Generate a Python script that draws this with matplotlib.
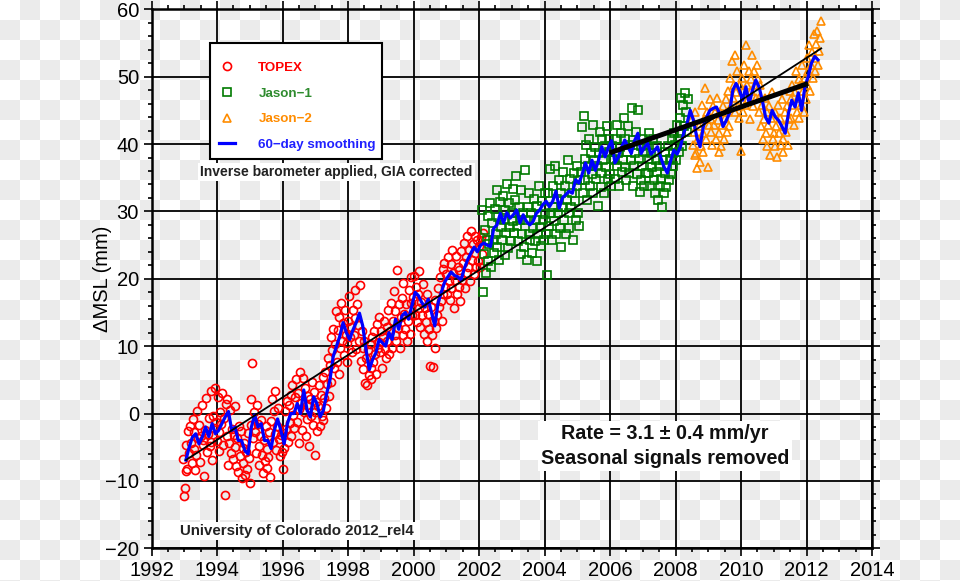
import numpy as np
import matplotlib
matplotlib.use('Agg')
import matplotlib.pyplot as plt
from matplotlib.ticker import MultipleLocator
from matplotlib.patches import Rectangle

plt.rcParams['font.family'] = ['Liberation Sans', 'DejaVu Sans']

# ---------------- data ----------------
cycle_yr = 0.02715          # ~9.9 day repeat cycle
topex_start = 1992.96
jason1_start = 2002.10
jason2_start = 2008.50

topex = [
    -6.8, -12.2, -11.1, -8.6, -4.7, -8.3, -2.6, -5.8, -1.9, -4.4, -7.3, -0.8, -5.2, -2.7, -8.4, -6.1, 0.4, -3.6, -1.7, -7.2, -3.3, 1.2, -4.6, -3.9, -9.3, -2.4, 2.3, -5.7, -3.1, -0.6, -4.8, 3.4, -4.2, -6.9, -0.3, -2.2, 3.8,
    -1.3, -4.1, 2.4, -2.8, -5.6, 0.3, -1.6, 3.1, -4.7, -0.7, -12.1, 1.4, -3.3, 2.2, -7.6, -4.4, 0.6, -5.8, -2.3, -6.7, -3.2, -4.9, 1.1, -7.8, -3.7, -8.7, -1.8, -6.3, -2.6, -9.6, -5.1, -7.4, -4.3, -9.1, -5.7, -8.2, -2.9,
    -6.6, -10.3, -1.7, 2.1, 7.5, -3.6, 0.2, -2.8, -5.9, 1.3, -1.5, -4.8, -7.7, -3.4, -0.9, -6.2, -8.8, -3.9, -7.1, -1.8, -5.3, -8.1, -6.4, -2.7, -9.4, -1.1, 2.2, -4.2, 0.4, -3.1, 3.3, -5.4, -1.9, 0.8, -3.8, -6.3, -3.2,
    -5.7, -8.3, -2.9, -5.1, 0.4, -2.3, 1.8, -4.2, 1.2, -1.4, 2.7, -3.3, 4.3, -0.2, -2.1, 2.4, 5.2, -1.3, 3.1, -4.3, 0.7, 6.2, 1.6, -2.4, 5.3, 0.3, 3.8, -3.4, 1.3, -0.8, 2.6, -4.8, 2.2, -0.4, 4.7, -1.7, 3.2,
    0.3, -6.2, 1.7, -2.6, 1.1, 4.3, -1.8, 2.7, -0.3, 5.4, -0.9, 2.3, 6.2, 0.8, 4.4, 8.3, 2.6, 7.2, 11.3, 4.7, 9.4, 12.6, 6.8, 10.3, 15.2, 7.6, 12.4, 5.8, 14.3, 9.7, 16.4, 10.8, 13.4, 8.7, 15.3, 11.6, 7.7,
    10.4, 13.7, 17.4, 11.3, 12.8, 9.2, 15.4, 11.7, 18.3, 14.2, 9.6, 16.3, 13.2, 10.7, 19.1, 7.8, 12.3, 9.7, 6.6, 10.8, 4.6, 8.3, 4.2, 9.4, 5.7, 10.3, 6.8, 5.2, 11.4, 7.7, 12.2, 8.8, 5.9, 13.3, 9.8, 14.4, 10.6,
    9.2, 12.3, 6.8, 11.4, 13.7, 9.6, 8.3, 12.8, 10.7, 15.3, 8.8, 12.2, 16.4, 9.7, 13.8, 18.2, 11.6, 15.2, 10.8, 21.3, 12.7, 16.3, 9.8, 14.3, 17.2, 11.7, 19.4, 14.8, 12.6, 16.2, 10.7, 13.8, 18.3, 11.8, 16.4, 20.2, 14.7,
    17.3, 20.4, 14.7, 18.8, 13.6, 17.8, 15.7, 21.2, 12.8, 16.6, 14.7, 19.3, 11.8, 15.7, 13.6, 17.8, 10.7, 14.8, 12.6, 7.1, 15.8, 11.7, 6.9, 13.8, 9.7, 16.8, 12.7, 14.6, 18.7, 15.8, 20.3, 16.7, 13.8, 21.4, 17.7, 22.3, 18.8,
    20.7, 17.8, 23.3, 19.7, 16.8, 22.2, 18.7, 24.3, 20.8, 15.7, 19.8, 23.4, 17.7, 21.8, 18.8, 21.3, 16.7, 24.2, 19.8, 22.3, 25.3, 18.7, 23.2, 20.8, 26.4, 21.7, 24.3, 19.6, 27.1, 22.8, 25.2, 20.7, 26.3, 23.8, 21.7, 25.8, 22.7,
    24.8, 21.8, 26.2, 23.7, 26.8,
]

jason1 = [
    30.2, 18.1, 23.7, 27.2, 20.8, 25.7, 29.3, 22.7, 25.2, 31.3, 21.8, 28.3, 25.7, 23.8, 30.3, 26.7, 33.2, 24.7, 29.2, 22.8, 31.4, 27.7, 25.8, 32.3, 28.7, 23.6, 30.2, 26.8, 34.1, 24.6, 31.2, 27.7, 25.6, 29.8, 33.3, 28.6, 26.8,
    31.7, 35.2, 27.8, 25.6, 30.7, 28.8, 23.7, 33.2, 26.7, 29.8, 24.7, 36.2, 28.7, 22.8, 30.6, 26.7, 32.8, 25.7, 29.7, 23.8, 27.6, 31.8, 25.6, 28.7, 22.6, 30.8, 26.6, 33.7, 27.7, 24.8, 31.6, 28.7, 25.8, 32.7, 29.6, 26.7, 20.6,
    32.7, 27.8, 36.3, 29.7, 25.8, 33.7, 30.7, 28.6, 36.8, 26.7, 31.8, 29.7, 34.7, 27.6, 32.8, 24.7, 30.6, 35.8, 28.7, 33.8, 26.7, 31.7, 37.7, 29.8, 27.6, 34.8, 30.7, 32.8, 25.7, 35.7, 31.6, 28.8, 36.8, 33.7, 29.7, 27.8, 34.7,
    35.8, 42.6, 32.7, 44.1, 37.8, 34.7, 39.8, 31.7, 36.8, 40.7, 33.8, 38.7, 35.6, 42.8, 32.7, 37.7, 39.6, 34.8, 36.7, 30.8, 38.7, 41.8, 35.7, 33.6, 40.8, 37.7, 32.8, 39.7, 36.6, 42.7, 34.8, 38.8, 40.7, 35.6, 33.8, 39.7, 37.8,
    37.6, 34.8, 40.7, 36.8, 42.8, 38.7, 33.8, 39.6, 41.7, 35.8, 37.7, 43.8, 36.6, 40.8, 34.7, 38.8, 42.7, 35.7, 39.8, 37.6, 45.4, 33.7, 40.6, 36.8, 38.7, 41.8, 35.6, 45.1, 37.8, 32.9, 39.7, 34.6, 36.8, 40.7, 33.7, 38.8, 35.7,
    39.8, 35.7, 37.8, 41.7, 33.8, 38.7, 36.6, 40.8, 34.7, 32.8, 37.7, 35.8, 39.7, 31.7, 36.8, 33.7, 34.8, 30.6, 37.7, 32.8, 35.7, 38.8, 33.6, 36.8, 39.7, 34.7, 37.8, 35.6, 40.8, 38.7, 36.8, 41.7, 39.8, 37.7, 42.8, 40.7, 38.8,
    43.8, 41.7, 46.8, 39.7, 45.8, 42.7, 47.6, 44.8, 41.8, 46.7,
]

jason2 = [
    43.7, 39.8, 41.8, 38.4, 44.8, 38.7, 36.4, 40.8, 42.7, 37.3, 39.7, 45.8, 41.7, 38.8, 43.7, 48.3, 40.8, 44.7, 36.6, 42.8, 46.7, 41.8, 43.7, 39.8, 45.7, 42.8, 44.8, 40.7, 46.8, 43.6, 38.8, 41.7, 44.8, 39.7, 42.8, 45.6, 40.8,
    43.8, 46.7, 41.8, 44.7, 47.8, 42.7, 49.8, 45.7, 52.3, 46.8, 48.7, 53.2, 44.8, 47.7, 50.8, 45.7, 43.8, 48.7, 38.9, 49.8, 44.7, 47.8, 51.7, 45.8, 54.7, 48.8, 46.7, 50.8, 43.7, 49.7, 47.8, 53.2, 45.7, 50.8, 48.7, 46.8, 51.7,
    49.7, 46.8, 44.7, 48.8, 42.7, 45.8, 40.8, 43.7, 46.8, 41.7, 44.8, 39.7, 42.8, 45.7, 38.4, 43.8, 47.7, 40.8, 41.7, 44.8, 39.7, 42.7, 38.1, 45.8, 41.7, 43.8, 39.8, 46.7, 40.7, 38.8, 42.7, 44.8, 41.8, 45.7, 39.8, 43.7, 47.8,
    46.7, 43.8, 48.7, 45.8, 42.8, 47.7, 50.8, 44.7, 46.8, 49.7, 43.8, 48.8, 45.8, 51.7, 47.8, 44.7, 49.8, 46.7, 52.8, 48.7, 50.8, 54.7, 47.8, 51.8, 53.7, 49.8, 56.4, 52.7, 50.8, 54.8, 56.8, 51.7, 53.8, 55.7, 58.2,
]

smooth_start = 1993.05
smooth_step = 0.1
smooth = [
    -6.9, -5, -3.5, -3, -4.5, -3.5, -2, -3.4, -1.5, -3,
    -2.5, -1.5, -0.5, 0.3, -2.5, -2, -4, -4, -5.5, -6,
    -2, -0.2, -2, -1.5, -4, -4, -5.2, -2.5, -0.8, -2.5,
    -4.5, -1.5, 0, 0, 1.5, 0, 3.5, 0.5, -0.5, 2.5,
    1.5, -0.5, 0.5, 3, 5, 8.5, 10, 11.5, 13.5, 12,
    11, 12.4, 13.5, 14.9, 13, 9.5, 6.5, 8, 9, 11,
    10.5, 10, 12, 11, 14, 12.5, 14.5, 15, 14, 16,
    18, 17.5, 16.5, 15.8, 17, 15, 13, 16.4, 18, 19.5,
    20.3, 21, 20.5, 20.3, 19.8, 21.5, 22.8, 23.8, 24.7, 24,
    25, 25.3, 25, 24.8, 27.5, 28, 29.7, 28.3, 29.8, 29,
    29.5, 30.2, 28.3, 29.5, 28.5, 28, 28.5, 29.7, 30.2, 31,
    31.5, 30.7, 31.5, 33, 30.5, 32, 32.5, 33, 32.7, 34.7,
    34.2, 35.5, 37.2, 35.7, 37.6, 36.1, 37.6, 39.6, 38.1, 39.5,
    40.5, 37.2, 38, 39.5, 40.6, 39.6, 38.6, 40.5, 41.6, 38.6,
    39.5, 40.1, 38.5, 39, 39.6, 38, 36.6, 35.7, 37.5, 39.1,
    38.5, 39.6, 41.6, 43, 45, 43.5, 41, 39.6, 42.6, 44,
    45, 45.3, 45.5, 44.5, 42.6, 43.5, 44.6, 48, 49, 48,
    46.5, 48.5, 46, 48, 49.5, 48.5, 46.5, 44, 43.1, 45,
    44, 43.5, 42.6, 41.6, 44.6, 46.5, 45.5, 47.6, 45, 48.5,
    50, 52, 53, 52.5,
]

trend_years = [1993.05, 2012.45]
trend_vals = [-6.9, 54.2]
recent_years = [2006.0, 2012.05]
recent_vals = [38.7, 49.0]

xticks = list(range(1992, 2015, 2))
yticks = list(range(-20, 61, 10))

# ---------------- figure ----------------
W, H = 960, 581
fig = plt.figure(figsize=(W / 100, H / 100), dpi=100)
fig.patch.set_facecolor('white')

# transparent-look checkerboard background
yy, xx = np.mgrid[0:H, 0:W]
chk = ((yy // 20 + xx // 20) % 2).astype(bool)
bg = np.ones((H, W, 3))
bg[chk] = 0.925
fig.figimage(bg, xo=0, yo=0, origin='upper', zorder=-10)

ax = fig.add_axes([151.5 / W, (H - 548.3) / H, 720.5 / W, 539.0 / H])
ax.set_facecolor('none')

t_top = topex_start + cycle_yr * np.arange(len(topex))
t_j1 = jason1_start + cycle_yr * np.arange(len(jason1))
t_j2 = jason2_start + cycle_yr * np.arange(len(jason2))
t_sm = smooth_start + smooth_step * np.arange(len(smooth))

h1, = ax.plot(t_top, topex, 'o', ms=5.8, mfc='none', mec='#ff0000', mew=1.2, zorder=3, label='TOPEX')
h2, = ax.plot(t_j1, jason1, 's', ms=5.4, mfc='none', mec='#007a00', mew=1.2, zorder=3, label='Jason\u22121')
h3, = ax.plot(t_j2, jason2, '^', ms=6.2, mfc='none', mec='#ff8c00', mew=1.2, zorder=3, label='Jason\u22122')
h4, = ax.plot(t_sm, smooth, '-', color='#0000ff', lw=2.3, zorder=4, label='60\u2212day smoothing')
ax.plot(trend_years, trend_vals, '-', color='black', lw=1.3, zorder=5)
ax.plot(recent_years, recent_vals, '-', color='black', lw=3.6, zorder=5, solid_capstyle='butt')

ax.set_xlim(1992, 2014)
ax.set_ylim(-20, 60)
ax.set_xticks(xticks)
ax.set_yticks(yticks)
ax.xaxis.set_minor_locator(MultipleLocator(0.5))
ax.yaxis.set_minor_locator(MultipleLocator(2))
ax.tick_params(which='both', direction='out', top=True, right=True, width=1.2, color='black')
ax.tick_params(which='major', length=6, labelsize=14.5, pad=3)
ax.tick_params(which='minor', length=3)
ax.grid(True, which='major', color='black', lw=1.3)
for s in ax.spines.values():
    s.set_linewidth(1.8)
    s.set_zorder(6)

ax.set_ylabel('\u0394MSL (mm)', fontsize=14.5)
ax.yaxis.set_label_coords(-0.055, 0.5)

# legend box
ax.add_patch(Rectangle((0.0812, 0.7223), 0.239, 0.2152, transform=ax.transAxes,
                       facecolor='white', edgecolor='black', lw=1.5, zorder=9))
leg = ax.legend(handles=[h1, h2, h3, h4], loc='upper left', bbox_to_anchor=(0.0937, 0.903),
                borderaxespad=0, borderpad=0, frameon=False,
                prop={'size': 9.6, 'weight': 'bold'}, handlelength=1.2, handletextpad=1.75,
                labelspacing=1.0,
                labelcolor=['#ff0000', '#2e8b2e', '#ff8c00', '#2020ff'])
leg.set_zorder(10)

ax.text(0.068, 0.698, 'Inverse barometer applied, GIA corrected', transform=ax.transAxes,
        fontsize=10, fontweight='bold', color='#222222', ha='left', va='center', zorder=10,
        bbox=dict(facecolor='white', edgecolor='none', pad=1.5))
ax.text(0.04, 0.032, 'University of Colorado 2012_rel4', transform=ax.transAxes,
        fontsize=10.8, fontweight='bold', color='#222222', ha='left', va='center', zorder=10,
        bbox=dict(facecolor='white', edgecolor='none', pad=1.5))
ax.text(0.713, 0.19, 'Rate = 3.1 \u00b1 0.4 mm/yr\nSeasonal signals removed', transform=ax.transAxes,
        fontsize=14.2, fontweight='bold', color='#111111', ha='center', va='center', zorder=10,
        linespacing=1.4, bbox=dict(facecolor='white', edgecolor='none', pad=2))

fig.savefig('out.png', dpi=100)
